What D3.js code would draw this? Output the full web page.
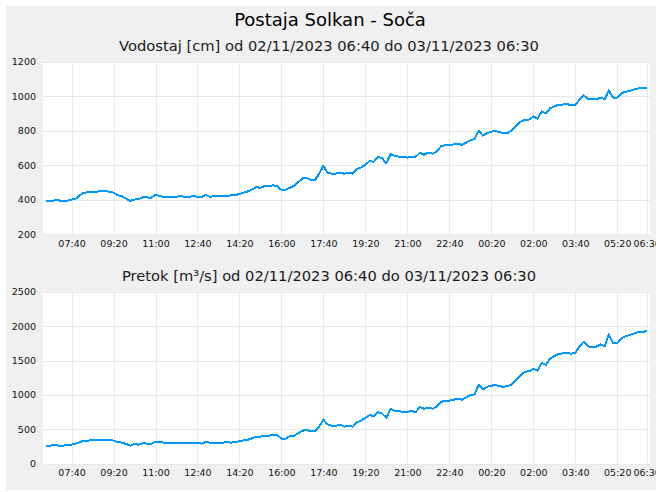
<!DOCTYPE html>
<html>
<head>
<meta charset="utf-8">
<script src="https://cdn.jsdelivr.net/npm/d3@7"></script>
<style>
  html, body { margin: 0; padding: 0; background: #ffffff; }
  svg { display: block; }
  text { font-family: "DejaVu Sans", sans-serif; }
</style>
</head>
<body>
<div id="chart"></div>
<script>
// ---------------- DATA ----------------
const titleText = "Postaja Solkan - Soča";
const levelTitle = "Vodostaj [cm] od 02/11/2023 06:40 do 03/11/2023 06:30";
const flowTitle = "Pretok [m³/s] od 02/11/2023 06:40 do 03/11/2023 06:30";

// 10-minute readings from 02/11/2023 06:40 to 03/11/2023 06:30
const levelValues = [
  390,390,
  395,395,390,393,400,405,
  425,440,442,445,445,450,
  450,445,440,425,420,405,
  392,400,403,413,412,410,
  427,420,415,415,415,415,
  421,415,415,421,415,415,
  427,415,420,420,420,420,
  425,425,433,440,447,458,
  472,468,478,478,483,476,
  456,458,468,480,501,522,
  526,513,513,550,596,555,
  550,551,555,550,555,550,
  579,586,602,623,619,649,
  639,610,664,654,649,649,
  643,649,649,672,660,672,
  666,678,709,715,715,720,
  722,718,730,744,751,800,
  771,786,794,798,790,786,
  788,804,829,852,862,864,
  882,870,911,899,930,940,
  950,951,955,946,950,979,
  1004,985,981,981,992,983,
  1033,992,992,1017,1025,1031,
  1039,1045,1047,1050
];

const flowValues = [
  262,262,
  276,262,262,276,276,291,
  315,334,334,349,349,349,
  349,349,334,315,305,286,
  262,286,276,300,291,291,
  315,315,305,305,305,305,
  305,305,305,305,305,291,
  315,305,305,305,305,315,
  305,315,325,339,349,368,
  392,392,407,407,421,417,
  363,363,402,407,441,480,
  489,475,475,538,640,572,
  552,552,567,538,552,538,
  601,630,664,707,693,751,
  727,669,795,770,765,751,
  756,765,751,824,799,814,
  799,829,896,916,916,930,
  945,930,964,998,1008,1148,
  1080,1119,1134,1143,1124,1119,
  1129,1158,1226,1284,1337,1342,
  1381,1352,1468,1434,1526,1565,
  1594,1604,1609,1599,1613,1701,
  1773,1705,1696,1701,1734,1705,
  1880,1749,1749,1822,1855,1870,
  1894,1914,1909,1933
];

const xTickLabels = ["07:40","09:20","11:00","12:40","14:20","16:00","17:40",
  "19:20","21:00","22:40","00:20","02:00","03:40","05:20","06:30"];
const levelTicks = [200, 400, 600, 800, 1000, 1200];
const flowTicks = [0, 500, 1000, 1500, 2000, 2500];

// ---------------- BUILD ----------------
const W = 662, H = 492;
const start = new Date(2023, 10, 2, 6, 40);
const times = levelValues.map((_, i) => new Date(start.getTime() + i * 600000));
const end = times[times.length - 1];

function tickDate(lbl) {
  const [h, m] = lbl.split(":").map(Number);
  const mins = h * 60 + m;
  const day = mins >= 400 ? 2 : 3;
  return new Date(2023, 10, day, h, m);
}
const xTickDates = xTickLabels.map(tickDate);

const svg = d3.select("#chart").append("svg").attr("width", W).attr("height", H);
svg.append("defs").append("clipPath").attr("id", "boxclip")
  .append("rect").attr("x", 6).attr("y", 6).attr("width", 650).attr("height", 484);

const root = svg.append("g").attr("clip-path", "url(#boxclip)");
root.append("rect").attr("x", 6).attr("y", 6).attr("width", 650).attr("height", 484)
  .attr("fill", "#f0f0f0");

root.append("text").attr("x", 330).attr("y", 26).attr("text-anchor", "middle")
  .attr("font-size", 18).attr("fill", "#000").text(titleText);

const pad = 8 * 60000;
const x = d3.scaleTime()
  .domain([new Date(start.getTime() - pad), new Date(end.getTime() + pad)])
  .range([43, 650]);

function panel(values, ticks, top, bottom, subtitle) {
  const y = d3.scaleLinear().domain([ticks[0], ticks[ticks.length - 1]]).range([bottom, top]);
  const g = root.append("g");
  g.append("text").attr("x", 329).attr("y", top - 10.5).attr("text-anchor", "middle")
    .attr("font-size", 14.7).attr("fill", "#1a1a1a").text(subtitle);
  g.append("rect").attr("x", 43).attr("y", top).attr("width", 607).attr("height", bottom - top)
    .attr("fill", "#ffffff");

  const xa = g.append("g").attr("transform", `translate(0,${bottom})`)
    .call(d3.axisBottom(x).tickValues(xTickDates)
      .tickFormat((d, i) => xTickLabels[i])
      .tickSizeInner(-(bottom - top)).tickSizeOuter(0).tickPadding(6));
  const ya = g.append("g").attr("transform", `translate(43,0)`)
    .call(d3.axisLeft(y).tickValues(ticks).tickFormat(d3.format("d"))
      .tickSizeInner(-607).tickSizeOuter(0).tickPadding(7));
  [xa, ya].forEach(a => {
    a.select(".domain").remove();
    a.selectAll("line").attr("stroke", "#e8e8e8").attr("shape-rendering", "crispEdges");
    a.selectAll("text").attr("font-size", 9.5).attr("fill", "#111")
      .attr("font-family", "DejaVu Sans, sans-serif");
  });

  const line = d3.line().x((d, i) => x(times[i])).y(d => y(d));
  g.append("path").datum(values).attr("d", line)
    .attr("fill", "none").attr("stroke", "#0096ff").attr("stroke-width", 2)
    .attr("stroke-linejoin", "round").attr("shape-rendering", "crispEdges");
}

panel(levelValues, levelTicks, 61.7, 234, levelTitle);
panel(flowValues, flowTicks, 291.7, 463.7, flowTitle);
</script>
</body>
</html>
